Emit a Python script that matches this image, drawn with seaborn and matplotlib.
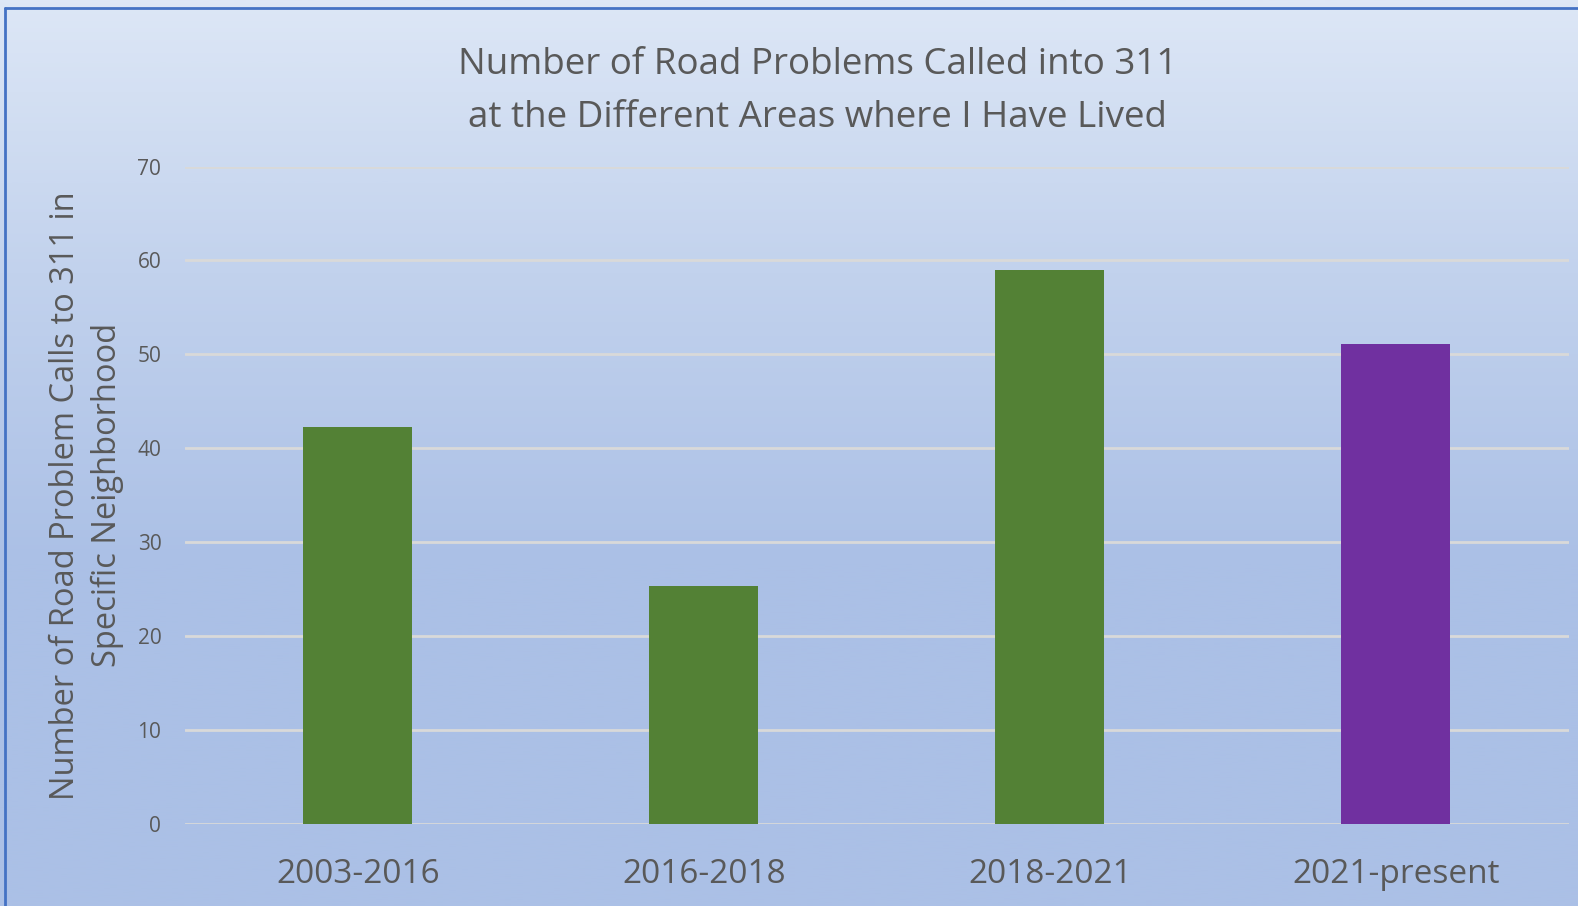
import numpy as np
import pandas as pd
import seaborn as sns
import matplotlib.pyplot as plt
from matplotlib.colors import LinearSegmentedColormap

periods = ["2003-2016", "2016-2018", "2018-2021", "2021-present"]
calls = [42.3, 25.4, 59.0, 51.1]
bar_colors = ["#538135", "#538135", "#538135", "#7030A0"]
y_ticks = [0, 10, 20, 30, 40, 50, 60, 70]

title = "Number of Road Problems Called into 311\nat the Different Areas where I Have Lived"
y_label = "Number of Road Problem Calls to 311 in\nSpecific Neighborhood"

sns.set_theme(style="white")
plt.rcParams['font.family'] = ['Open Sans', 'DejaVu Sans']
text_grey = "#595959"

fig = plt.figure(figsize=(15.78, 9.06), dpi=100)

# background gradient like the Excel chart fill
bg = fig.add_axes([0, 0, 1, 1], zorder=0)
grad_cmap = LinearSegmentedColormap.from_list(
    "bg", [(0.0, "#abc0e6"), (0.38, "#abc0e6"), (0.7, "#c2d2ed"), (1.0, "#dde7f6")])
grad = np.linspace(0, 1, 512).reshape(-1, 1)
bg.imshow(grad, aspect="auto", cmap=grad_cmap, origin="lower", extent=[0, 1, 0, 1])
bg.plot([0.0032, 0.0032], [0, 0.991], color="#4472C4", lw=2)
bg.plot([0.0032, 1], [0.991, 0.991], color="#4472C4", lw=2)
bg.set_xlim(0, 1)
bg.set_ylim(0, 1)
bg.axis("off")

ax = fig.add_axes([0.1172, 0.0902, 0.8771, 0.7260], zorder=1)
ax.patch.set_alpha(0)

df = pd.DataFrame({"period": periods, "calls": calls})
sns.barplot(data=df, x="period", y="calls", hue="period", palette=bar_colors,
            width=0.315, legend=False, ax=ax, zorder=3, saturation=1, linewidth=0)

ax.set_ylim(0, 70)
ax.set_xlim(-0.5, 3.5)
ax.set_yticks(y_ticks)
ax.yaxis.grid(True, color="#d9d9d9", lw=2, zorder=0)
ax.set_axisbelow(True)
for s in ax.spines.values():
    s.set_visible(False)
ax.tick_params(axis="y", length=0, pad=17, labelsize=15, labelcolor=text_grey)
ax.tick_params(axis="x", length=0, pad=24, labelsize=24, labelcolor=text_grey)
ax.set_xlabel("")
ax.set_ylabel(y_label, fontsize=23.5, color=text_grey, labelpad=10, linespacing=1.35)

fig.text(0.518, 0.899, title, ha="center", va="center", fontsize=26.5,
         color=text_grey, linespacing=1.62)

fig.savefig("out.png", dpi=100)
